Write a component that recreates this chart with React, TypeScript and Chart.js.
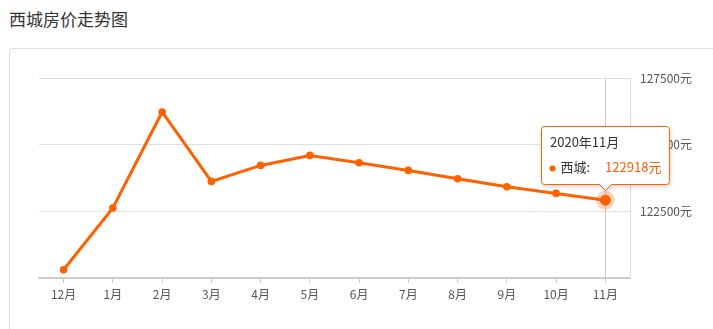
import React, { useEffect, useRef } from 'react';
import { Chart, registerables } from 'chart.js';

Chart.register(...registerables);

const categories = ['12月', '1月', '2月', '3月', '4月', '5月', '6月', '7月', '8月', '9月', '10月', '11月'];
const values = [120311, 122625, 126225, 123622, 124222, 124597, 124324, 124035, 123724, 123424, 123172, 122918];
const yMin = 120000;
const yMax = 127500;
const yStep = 2500;
const unit = '元';
const seriesName = '西城';
const tooltipTitle = '2020年11月';
const activeIndex = 11;

const ORANGE = '#ff6000';
const FONT = '"Noto Sans CJK SC", "Noto Sans", sans-serif';

const tooltipPlugin = {
  id: 'fixedTooltip',
  beforeDatasetsDraw(chart: any) {
    const pt = chart.getDatasetMeta(0).data[activeIndex];
    if (!pt) return;
    const { ctx, chartArea } = chart;
    ctx.save();
    ctx.strokeStyle = '#cccccc';
    ctx.lineWidth = 1;
    const x = Math.round(pt.x) + 0.5;
    ctx.beginPath();
    ctx.moveTo(x, chartArea.top);
    ctx.lineTo(x, chartArea.bottom);
    ctx.stroke();
    ctx.restore();
  },
  afterDatasetsDraw(chart: any) {
    const pt = chart.getDatasetMeta(0).data[activeIndex];
    if (!pt) return;
    const { ctx } = chart;
    const px = pt.x;
    const py = pt.y;
    ctx.save();
    // halo + emphasised point
    ctx.fillStyle = 'rgba(255, 96, 0, 0.25)';
    ctx.beginPath();
    ctx.arc(px, py, 9.5, 0, Math.PI * 2);
    ctx.fill();
    ctx.fillStyle = ORANGE;
    ctx.beginPath();
    ctx.arc(px, py, 5.5, 0, Math.PI * 2);
    ctx.fill();

    // tooltip box
    ctx.font = `13px ${FONT}`;
    const titleW = ctx.measureText(tooltipTitle).width;
    const nameText = seriesName + ':';
    const nameW = ctx.measureText(nameText).width;
    const valueText = String(values[activeIndex]) + unit;
    const valueW = ctx.measureText(valueText).width;
    const padX = 8;
    const line2W = 11 + nameW + 15 + valueW;
    const boxW = Math.max(titleW, line2W) + padX * 2;
    const boxH = 58;
    const left = Math.round(px - boxW / 2) + 0.5;
    const bottom = Math.round(py - 16) + 0.5;
    const top = bottom - boxH;
    const right = left + boxW;
    const r = 3;
    const ax = Math.round(px) + 0.5;

    ctx.beginPath();
    ctx.moveTo(left + r, top);
    ctx.lineTo(right - r, top);
    ctx.arcTo(right, top, right, top + r, r);
    ctx.lineTo(right, bottom - r);
    ctx.arcTo(right, bottom, right - r, bottom, r);
    ctx.lineTo(ax + 6, bottom);
    ctx.lineTo(ax, bottom + 6);
    ctx.lineTo(ax - 6, bottom);
    ctx.lineTo(left + r, bottom);
    ctx.arcTo(left, bottom, left, bottom - r, r);
    ctx.lineTo(left, top + r);
    ctx.arcTo(left, top, left + r, top, r);
    ctx.closePath();
    ctx.shadowColor = 'rgba(0,0,0,0.2)';
    ctx.shadowBlur = 5;
    ctx.shadowOffsetX = 1;
    ctx.shadowOffsetY = 2;
    ctx.fillStyle = '#ffffff';
    ctx.fill();
    ctx.shadowColor = 'transparent';
    ctx.shadowBlur = 0;
    ctx.shadowOffsetX = 0;
    ctx.shadowOffsetY = 0;
    ctx.strokeStyle = ORANGE;
    ctx.lineWidth = 1;
    ctx.stroke();

    ctx.textBaseline = 'middle';
    ctx.textAlign = 'left';
    ctx.fillStyle = '#333333';
    const tx = left + padX;
    ctx.fillText(tooltipTitle, tx + 0.5, top + 16);
    const l2y = top + 41;
    ctx.fillStyle = ORANGE;
    ctx.beginPath();
    ctx.arc(tx + 3, l2y + 1, 3, 0, Math.PI * 2);
    ctx.fill();
    ctx.fillStyle = '#333333';
    ctx.fillText(nameText, tx + 11, l2y);
    ctx.fillStyle = ORANGE;
    ctx.fillText(valueText, tx + 11 + nameW + 15, l2y);
    ctx.restore();
  },
};

export default function App() {
  const canvasRef = useRef<HTMLCanvasElement | null>(null);

  useEffect(() => {
    const canvas = canvasRef.current;
    if (!canvas) return;
    const chart = new Chart(canvas, {
      type: 'line',
      data: {
        labels: categories,
        datasets: [
          {
            label: seriesName,
            data: values,
            borderColor: ORANGE,
            backgroundColor: ORANGE,
            borderWidth: 3,
            pointRadius: 3.8,
            pointBorderWidth: 0,
            pointBackgroundColor: ORANGE,
            tension: 0,
            fill: false,
          },
        ],
      },
      options: {
        animation: false,
        responsive: false,
        devicePixelRatio: 1,
        events: [],
        layout: { padding: { left: 39, top: 78, right: 0, bottom: 0 } },
        plugins: {
          legend: { display: false },
          tooltip: { enabled: false },
          title: { display: false },
        },
        scales: {
          x: {
            type: 'category',
            offset: true,
            grid: {
              drawOnChartArea: false,
              drawTicks: true,
              tickLength: 5,
              color: '#cccccc',
            },
            border: { display: true, color: '#cccccc', width: 2 },
            ticks: {
              color: '#555555',
              font: { size: 12, family: FONT },
              padding: 4,
              maxRotation: 0,
              autoSkip: false,
            },
            afterFit(scale: any) {
              scale.height = 51;
            },
          },
          y: {
            type: 'linear',
            position: 'right',
            min: yMin,
            max: yMax,
            grid: {
              color: '#e0e0e0',
              lineWidth: 1,
              drawTicks: false,
            },
            border: { display: true, color: '#dddddd', width: 1 },
            ticks: {
              stepSize: yStep,
              color: '#555555',
              font: { size: 12, family: FONT },
              padding: 10,
              callback: (v: any) => (Number(v) === yMin ? '' : String(v) + unit),
            },
            afterFit(scale: any) {
              scale.width = 83;
            },
          },
        },
      },
      plugins: [tooltipPlugin],
    });
    return () => chart.destroy();
  }, []);

  return (
    <div style={{ position: 'absolute', left: 0, top: 0, width: 713, height: 329, overflow: 'hidden', background: '#fff' }}>
      <div
        style={{
          position: 'absolute',
          left: 9,
          top: 7,
          fontSize: 17,
          color: '#333333',
          fontFamily: FONT,
          lineHeight: '24px',
        }}
      >
        西城房价走势图
      </div>
      <div
        style={{
          position: 'absolute',
          left: 9,
          top: 48,
          width: 760,
          height: 320,
          border: '1px solid #dddddd',
          borderRadius: 4,
          boxSizing: 'border-box',
        }}
      />
      <canvas
        ref={canvasRef}
        width={713}
        height={329}
        style={{ position: 'absolute', left: 0, top: 0, width: 713, height: 329 }}
      />
    </div>
  );
}
